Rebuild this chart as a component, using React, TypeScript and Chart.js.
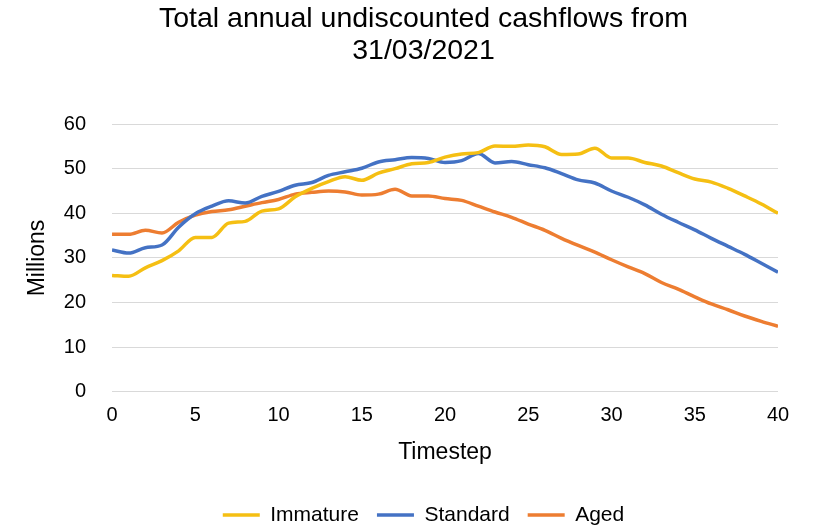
import React, { useEffect, useRef } from "react";
import { Chart, registerables } from "chart.js";

Chart.register(...registerables);

const timesteps: number[] = Array.from({ length: 41 }, (_, i) => i);

const immature: number[] = [
  26.1, 25.9, 27.8, 29.4, 31.6, 34.6, 34.6, 37.8, 38.2, 40.5,
  41.0, 43.7, 45.6, 47.1, 48.2, 47.4, 49.0, 50.0, 51.1, 51.4,
  52.6, 53.3, 53.6, 55.1, 55.0, 55.3, 54.9, 53.2, 53.3, 54.6,
  52.4, 52.4, 51.4, 50.6, 49.1, 47.7, 47.0, 45.6, 43.9, 42.1,
  40.0,
];

const standard: number[] = [
  31.8, 31.1, 32.3, 32.9, 36.9, 39.9, 41.6, 42.8, 42.3, 43.8,
  44.9, 46.3, 46.9, 48.5, 49.3, 50.1, 51.5, 52.0, 52.5, 52.3,
  51.4, 51.8, 53.4, 51.3, 51.6, 50.9, 50.2, 48.9, 47.5, 46.8,
  45.0, 43.6, 41.9, 39.8, 38.0, 36.3, 34.4, 32.6, 30.8, 28.8,
  26.8,
];

const aged: number[] = [
  35.3, 35.3, 36.2, 35.6, 38.0, 39.6, 40.4, 40.8, 41.6, 42.4,
  43.1, 44.3, 44.7, 45.0, 44.8, 44.1, 44.3, 45.4, 43.9, 43.9,
  43.3, 42.9, 41.6, 40.3, 39.1, 37.6, 36.2, 34.4, 32.8, 31.3,
  29.6, 28.0, 26.5, 24.5, 23.0, 21.3, 19.7, 18.4, 17.0, 15.8,
  14.7,
];

const seriesNames: string[] = ["Immature", "Standard", "Aged"];
const seriesColors: string[] = ["#F5BF13", "#4472C4", "#ED7D31"];
const titleLines: string[] = ["Total annual undiscounted cashflows from", "31/03/2021"];

const FONT = "'Liberation Sans', Arial, sans-serif";

export default function App() {
  const ref = useRef<HTMLCanvasElement | null>(null);

  useEffect(() => {
    if (!ref.current) return;
    const toPts = (arr: number[]) => arr.map((v, i) => ({ x: timesteps[i], y: v }));
    const series = [immature, standard, aged];
    const chart = new Chart(ref.current, {
      type: "line",
      data: {
        datasets: series.map((s, i) => ({
          label: seriesNames[i],
          data: toPts(s),
          borderColor: seriesColors[i],
          backgroundColor: seriesColors[i],
          borderWidth: 3.5,
          pointRadius: 0,
          tension: 0.4,
          cubicInterpolationMode: "monotone" as const,
          fill: false,
        })),
      },
      options: {
        animation: false,
        responsive: false,
        maintainAspectRatio: false,
        layout: { padding: { left: 24, right: 6, top: 3, bottom: -9.5 } },
        plugins: {
          title: {
            display: true,
            text: titleLines,
            color: "#000",
            font: { family: FONT, size: 28.5, weight: "normal", lineHeight: 1.12 },
            padding: { top: 0, bottom: 57.2 },
          },
          legend: {
            display: true,
            position: "bottom",
            labels: {
              usePointStyle: true,
              pointStyle: "line",
              pointStyleWidth: 37,
              color: "#000",
              font: { family: FONT, size: 21 },
              padding: 18,
            },
          },
          tooltip: { enabled: false },
        },
        scales: {
          x: {
            type: "linear",
            min: 0,
            max: 40,
            grid: { display: false, drawTicks: false },
            border: { display: false },
            ticks: {
              stepSize: 5,
              color: "#000",
              padding: 11.5,
              font: { family: FONT, size: 20 },
            },
            title: {
              display: true,
              text: "Timestep",
              color: "#000",
              font: { family: FONT, size: 23 },
              padding: { top: 0, bottom: 20 },
            },
          },
          y: {
            min: 0,
            max: 60,
            grid: { color: "#d9d9d9", lineWidth: 1, drawTicks: false },
            border: { display: false },
            ticks: {
              stepSize: 10,
              color: "#000",
              padding: 26,
              font: { family: FONT, size: 20 },
            },
            title: {
              display: true,
              text: "Millions",
              color: "#000",
              font: { family: FONT, size: 23 },
              padding: { top: 0, bottom: -13.8 },
            },
          },
          yRight: {
            position: "right",
            display: true,
            min: 0,
            max: 60,
            grid: { display: false, drawTicks: false },
            border: { display: false },
            ticks: { display: false },
            afterFit: (scale: any) => {
              scale.width = 45;
            },
          },
        },
      },
    });
    return () => chart.destroy();
  }, []);

  return (
    <div style={{ position: "absolute", left: 0, top: 0, width: 829, height: 526, background: "#fff" }}>
      <canvas ref={ref} width={829} height={526} style={{ display: "block" }} />
    </div>
  );
}
